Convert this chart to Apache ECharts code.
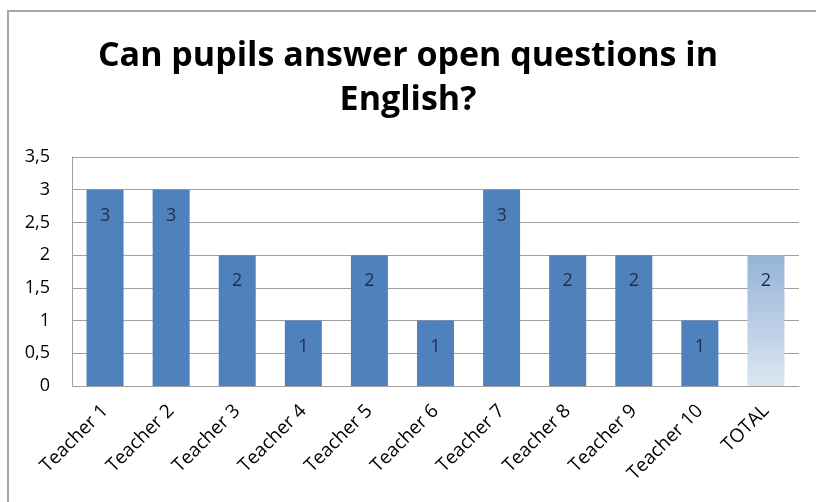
<!DOCTYPE html>
<html>
<head>
<meta charset="utf-8">
<script src="https://cdn.jsdelivr.net/npm/echarts@6/dist/echarts.min.js"></script>
<style>
  html, body { margin: 0; padding: 0; background: #fff; }
  #frame { position: absolute; left: 7px; top: 10px; width: 820px; height: 500px; border-left: 2px solid #a6a6a6; border-top: 2px solid #a6a6a6; }
  #chart { position: absolute; left: 0; top: 0; width: 816px; height: 502px; }
</style>
</head>
<body>
<div id="frame"></div>
<div id="chart"></div>
<script>
const titleText = 'Can pupils answer open questions in\nEnglish?';
const categories = ['Teacher 1', 'Teacher 2', 'Teacher 3', 'Teacher 4', 'Teacher 5', 'Teacher 6', 'Teacher 7', 'Teacher 8', 'Teacher 9', 'Teacher 10', 'TOTAL'];
const values = [3, 3, 2, 1, 2, 1, 3, 2, 2, 1, 2];
const totalCategory = 'TOTAL';

const FONT = '"Open Sans", Lato, sans-serif';
const barBlue = '#4f81bd';
const totalFill = new echarts.graphic.LinearGradient(0, 0, 0, 1, [
  { offset: 0, color: '#95b3d7' },
  { offset: 1, color: '#dce6f2' }
]);

const seriesData = values.map((v, i) => ({
  value: v,
  itemStyle: { color: categories[i] === totalCategory ? totalFill : barBlue }
}));

const chart = echarts.init(document.getElementById('chart'), null, { renderer: 'canvas' });
chart.setOption({
  backgroundColor: 'transparent',
  animation: false,
  title: {
    text: titleText,
    left: 'center',
    top: 29,
    textStyle: { fontFamily: FONT, fontSize: 34, fontWeight: 'bold', color: '#000', lineHeight: 44 }
  },
  grid: { left: 72, right: 17, top: 157, bottom: 116, containLabel: false },
  xAxis: {
    type: 'category',
    data: categories,
    axisLine: { show: true, lineStyle: { color: '#a0a0a0', width: 1 } },
    axisTick: { show: false },
    axisLabel: { rotate: 45, fontFamily: FONT, fontSize: 19, color: '#000', margin: 22, interval: 0 }
  },
  yAxis: {
    type: 'value',
    min: 0,
    max: 3.5,
    interval: 0.5,
    axisLine: { show: true, lineStyle: { color: '#a0a0a0', width: 1 } },
    axisTick: { show: false },
    splitLine: { show: true, lineStyle: { color: '#a0a0a0', width: 1 } },
    axisLabel: {
      fontFamily: FONT, fontSize: 18, color: '#000', margin: 22,
      formatter: v => String(v).replace('.', ',')
    }
  },
  series: [{
    type: 'bar',
    data: seriesData,
    barWidth: '56%',
    label: {
      show: true,
      position: 'insideTop',
      distance: 17,
      fontFamily: FONT,
      fontSize: 18,
      color: '#1f2d4a'
    }
  }]
});
</script>
</body>
</html>
